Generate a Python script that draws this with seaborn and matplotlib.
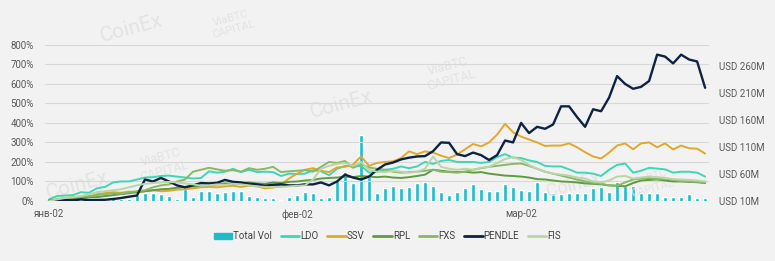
import matplotlib
matplotlib.use('Agg')
import matplotlib.pyplot as plt
import seaborn as sns
import pandas as pd
from matplotlib.patches import Patch
from matplotlib.lines import Line2D

sns.set_theme(style="white")
plt.rcParams['font.family'] = ['Roboto', 'DejaVu Sans']

# daily data, 2 Jan - 25 Mar
dates = pd.date_range('2023-01-02', '2023-03-25', freq='D')

total_vol = [10, 10, 10, 10.5, 11, 11, 11, 12, 15, 13, 14, 21, 25, 25, 23, 19, 13, 32, 18, 28,
             28, 25, 27, 28, 28, 19, 17, 15, 15, 12, 17, 21, 27, 25, 15, 17, 49, 64, 43, 132,
             55, 25, 34, 38, 34, 36, 43, 45, 38, 27, 21, 27, 34, 42, 32, 29, 29, 41, 36, 30,
             29, 45, 27, 25, 23, 25, 25, 25, 34, 36, 27, 45, 38, 38, 25, 25, 25, 17, 17, 17,
             23, 15, 15]

ldo = [8, 25, 28, 30, 45, 42, 65, 72, 95, 100, 100, 110, 120, 122, 128, 130, 125, 120, 115, 118,
       152, 145, 150, 165, 148, 160, 148, 150, 148, 128, 140, 138, 140, 158, 152, 132, 165, 180, 177, 180,
       145, 150, 160, 165, 177, 168, 177, 200, 190, 205, 210, 200, 200, 200, 195, 200, 225, 240, 222, 220,
       208, 200, 180, 177, 177, 162, 145, 145, 140, 128, 160, 185, 192, 145, 155, 170, 166, 162, 145, 150,
       150, 145, 125]

ssv = [0, 5, 8, 10, 15, 20, 35, 40, 45, 42, 48, 45, 50, 55, 50, 52, 58, 60, 65, 70,
       72, 70, 75, 78, 72, 78, 75, 65, 68, 85, 115, 140, 160, 168, 155, 148, 172, 175, 187, 228,
       180, 195, 200, 203, 220, 254, 240, 254, 248, 232, 220, 238, 265, 292, 280, 300, 340, 395, 352, 330,
       315, 300, 282, 284, 284, 295, 275, 250, 228, 218, 248, 284, 295, 265, 295, 300, 275, 295, 264, 284,
       270, 268, 243]

rpl = [0, 5, 8, 10, 15, 18, 20, 25, 30, 35, 40, 45, 50, 55, 60, 62, 68, 72, 75, 78,
       80, 85, 90, 88, 92, 95, 90, 88, 95, 92, 98, 100, 105, 108, 115, 118, 120, 125, 122, 128,
       125, 122, 125, 120, 118, 122, 128, 135, 160, 155, 150, 148, 150, 145, 148, 140, 135, 130, 128, 125,
       120, 112, 110, 105, 100, 98, 95, 90, 88, 85, 80, 78, 75, 92, 105, 108, 110, 105, 100, 100,
       98, 96, 92]

fxs = [0, 10, 15, 20, 22, 25, 30, 35, 40, 38, 45, 50, 55, 70, 80, 85, 100, 110, 150, 160,
       170, 162, 155, 158, 150, 168, 160, 165, 175, 148, 152, 155, 158, 150, 175, 200, 195, 205, 170, 188,
       172, 165, 160, 150, 145, 148, 150, 155, 160, 150, 148, 145, 150, 160, 168, 175, 180, 185, 190, 192,
       180, 165, 150, 140, 130, 120, 110, 100, 92, 88, 80, 78, 95, 110, 115, 118, 112, 115, 108, 102,
       100, 98, 95]

pendle = [0, 2, 5, 3, 8, 4, 5, 6, 10, 15, 22, 28, 110, 100, 118, 100, 80, 70, 80, 92,
          90, 93, 108, 98, 95, 88, 85, 78, 83, 85, 80, 80, 85, 85, 95, 80, 100, 135, 120, 110,
          125, 160, 187, 197, 213, 222, 228, 230, 255, 300, 298, 240, 230, 248, 235, 210, 235, 310, 300, 400,
          348, 380, 370, 392, 485, 485, 430, 380, 470, 460, 530, 640, 600, 575, 585, 615, 750, 740, 705, 750,
          725, 715, 580]

fis = [0, 8, 15, 20, 25, 35, 45, 50, 55, 60, 70, 80, 88, 92, 95, 98, 95, 90, 85, 78,
       80, 85, 82, 88, 85, 80, 75, 72, 70, 72, 75, 78, 80, 110, 165, 180, 190, 195, 180, 200,
       160, 150, 148, 155, 150, 145, 150, 165, 228, 175, 165, 160, 165, 160, 170, 175, 195, 215, 225, 210,
       185, 165, 150, 140, 135, 130, 120, 115, 100, 95, 105, 125, 128, 115, 120, 125, 122, 118, 112, 110,
       108, 105, 100]

tick_days = [0, 31, 59]
tick_labels = ['янв-02', 'фев-02', 'мар-02']
right_ticks = [10, 60, 110, 160, 210, 260]

names = ['LDO', 'SSV', 'RPL', 'FXS', 'PENDLE', 'FIS']
colors = {'LDO': '#3cd8b6', 'SSV': '#e2a82c', 'RPL': '#5e9c3e', 'FXS': '#88b868',
          'PENDLE': '#0e2242', 'FIS': '#bad5a6'}
bar_color = '#1ebccb'
bg = '#f2f2f2'

day = list(range(len(dates)))
lines = pd.DataFrame({'day': day, 'LDO': ldo, 'SSV': ssv, 'RPL': rpl, 'FXS': fxs,
                      'PENDLE': pendle, 'FIS': fis})
long = lines.melt(id_vars='day', var_name='token', value_name='pct')
bars = pd.DataFrame({'day': day, 'vol': total_vol})

fig = plt.figure(figsize=(7.75, 2.61), dpi=100, facecolor=bg)

# faint watermarks behind everything
for (x, y, t, fs) in [(0.17, 0.89, 'CoinEx', 15), (0.44, 0.60, 'CoinEx', 15),
                      (0.10, 0.29, 'CoinEx', 15), (0.74, 0.29, 'CoinEx', 13),
                      (0.58, 0.72, 'ViaBTC\nCAPITAL', 9), (0.30, 0.91, 'ViaBTC\nCAPITAL', 8),
                      (0.21, 0.37, 'ViaBTC\nCAPITAL', 9), (0.84, 0.30, 'ViaBTC\nCAPITAL', 8)]:
    fig.text(x, y, t, fontsize=fs, color='#e3e3e3', ha='center', va='center',
             rotation=15, zorder=0)

ax = fig.add_axes([0.058, 0.23, 0.857, 0.598])
ax2 = ax.twinx()

sns.barplot(data=bars, x='day', y='vol', ax=ax2, color=bar_color, width=0.55,
            saturation=1, zorder=2)
ax2.set_ylim(10, 299)
ax2.set_yticks(right_ticks)
ax2.set_yticklabels(['USD %dM' % v for v in right_ticks])

sns.lineplot(data=long, x='day', y='pct', hue='token', palette=colors, ax=ax,
             legend=False, linewidth=1.4, zorder=3)
for ln in ax.get_lines():
    if ln.get_color() == colors['PENDLE']:
        ln.set_linewidth(1.7)

ax.set_zorder(ax2.get_zorder() + 1)
ax.patch.set_visible(False)
ax2.patch.set_visible(False)

ax.set_ylim(0, 800)
ax.set_yticks(range(0, 801, 100))
ax.set_yticklabels(['%d%%' % v for v in range(0, 801, 100)])
ax.yaxis.grid(True, color='#d8d8d8', linewidth=0.8)
ax.set_axisbelow(True)
ax.set_xlim(-0.5, len(day) - 0.5)
ax.set_xticks(tick_days)
ax.set_xticklabels(tick_labels)
ax.set_xlabel('')
ax.set_ylabel('')
ax2.set_xlabel('')
ax2.set_ylabel('')

for a in (ax, ax2):
    for s in a.spines.values():
        s.set_visible(False)
    a.tick_params(length=0, labelsize=7, labelcolor='#595959')
ax.tick_params(axis='y', pad=8)
ax.tick_params(axis='x', pad=6)
ax2.tick_params(axis='y', pad=7)

handles = [Patch(color=bar_color, label='Total Vol')]
handles += [Line2D([0], [0], color=colors[n], lw=2, label=n) for n in names]
fig.legend(handles=handles, loc='center', bbox_to_anchor=(0.5, 0.095), ncol=7,
           frameon=False, fontsize=7, handlelength=1.9, handleheight=0.6,
           handletextpad=0.1, columnspacing=0.9, labelcolor='#404040')

fig.savefig('out.png', dpi=100, facecolor=bg)
